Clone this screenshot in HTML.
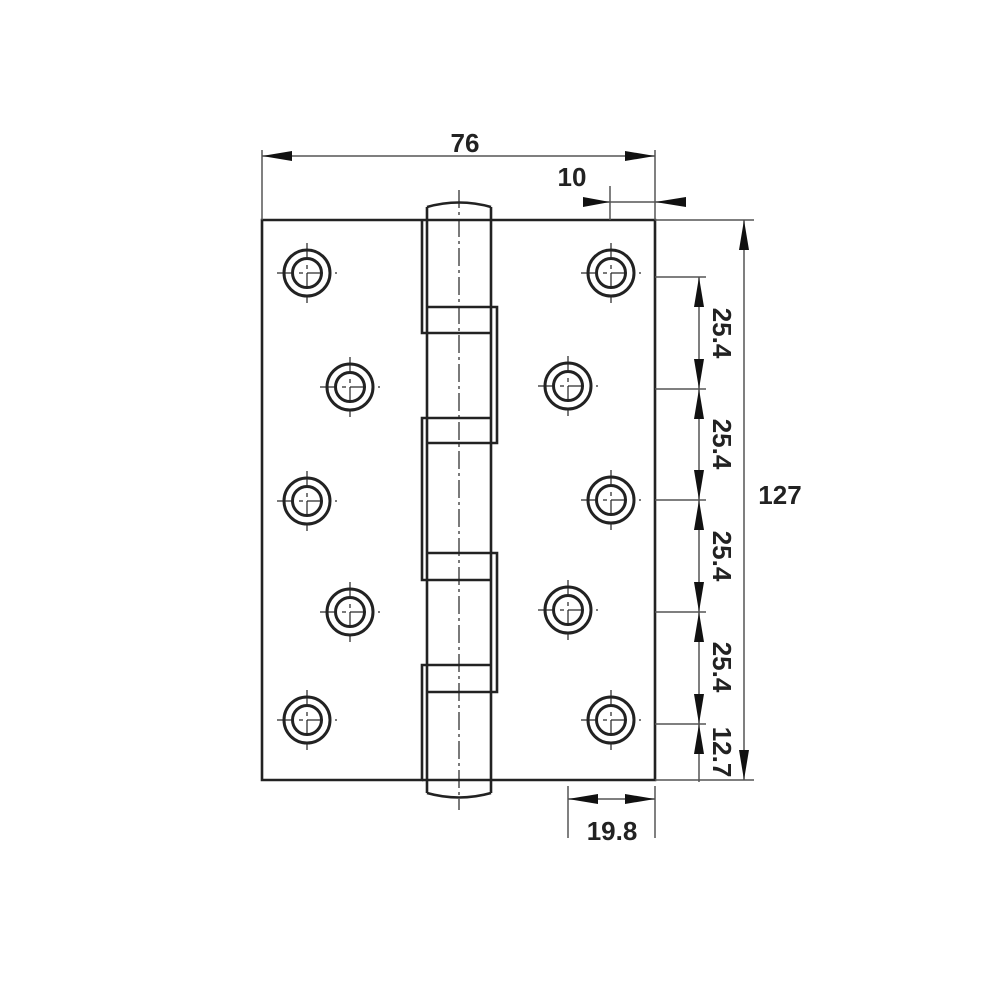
<!DOCTYPE html>
<html><head><meta charset="utf-8"><style>
html,body{margin:0;padding:0;background:#fff;}
svg{display:block;}
text{font-family:"Liberation Sans",Arial,sans-serif;font-weight:bold;font-size:26px;fill:#222;}
</style></head><body>
<svg width="1000" height="1000" viewBox="0 0 1000 1000" xmlns="http://www.w3.org/2000/svg">
<defs>
<g id="hole">
  <circle r="23" fill="none" stroke="#222" stroke-width="3"/>
  <circle r="14.5" fill="none" stroke="#222" stroke-width="3"/>
  <g stroke="#222" stroke-width="1.2">
    <line x1="-30" y1="0" x2="-16" y2="0"/><line x1="-8" y1="0" x2="-4" y2="0"/><line x1="0" y1="0" x2="16" y2="0"/><line x1="22" y1="0" x2="24" y2="0"/><line x1="28" y1="0" x2="30" y2="0"/>
    <line x1="0" y1="-30" x2="0" y2="-16"/><line x1="0" y1="-8" x2="0" y2="-4"/><line x1="0" y1="0" x2="0" y2="16"/><line x1="0" y1="24" x2="0" y2="30"/>
  </g>
</g>
</defs>
<g fill="none" stroke="#222" stroke-width="2.6">
  <path d="M422,220 H262 V780 H422 V665 H491"/>
  <path d="M422,220 V333 H491"/>
  <path d="M491,418 H422 V580 H491"/>
  <path d="M491,220 H655 V780 H491"/>
  <path d="M427,307 H497 V443 H427"/>
  <path d="M427,553 H497 V692 H427"/>
  <line x1="422" y1="220" x2="491" y2="220"/>
  <line x1="422" y1="780" x2="491" y2="780"/>
  <path d="M427,207 Q459,198 491,207"/>
  <path d="M427,793 Q459,802 491,793"/>
  <line x1="427" y1="207" x2="427" y2="793"/>
  <line x1="491" y1="207" x2="491" y2="793"/>
</g>
<line x1="459" y1="190" x2="459" y2="810" stroke="#222" stroke-width="1.2" stroke-dasharray="18,4,3,4"/>
<use href="#hole" x="307" y="273"/>
<use href="#hole" x="350" y="387"/>
<use href="#hole" x="307" y="501"/>
<use href="#hole" x="350" y="612"/>
<use href="#hole" x="307" y="720"/>
<use href="#hole" x="611" y="273"/>
<use href="#hole" x="568" y="386"/>
<use href="#hole" x="611" y="500"/>
<use href="#hole" x="568" y="610"/>
<use href="#hole" x="611" y="720"/>
<g stroke="#555" stroke-width="1.5" fill="none">
  <line x1="262" y1="150" x2="262" y2="220"/>
  <line x1="655" y1="150" x2="655" y2="220"/>
  <line x1="262" y1="156" x2="655" y2="156"/>
  <line x1="610" y1="186" x2="610" y2="220"/>
  <line x1="583" y1="202" x2="686" y2="202"/>
  <line x1="655" y1="220" x2="754" y2="220"/>
  <line x1="655" y1="780" x2="754" y2="780"/>
  <line x1="744" y1="220" x2="744" y2="780"/>
  <line x1="655" y1="277" x2="706" y2="277"/>
  <line x1="655" y1="389" x2="706" y2="389"/>
  <line x1="655" y1="500" x2="706" y2="500"/>
  <line x1="655" y1="612" x2="706" y2="612"/>
  <line x1="655" y1="724" x2="706" y2="724"/>
  <line x1="699" y1="277" x2="699" y2="782"/>
  <line x1="568" y1="786" x2="568" y2="838"/>
  <line x1="655" y1="786" x2="655" y2="838"/>
  <line x1="568" y1="799" x2="655" y2="799"/>
</g>
<g fill="#111">
  <polygon points="262,156 292,151 292,161"/>
  <polygon points="655,156 625,151 625,161"/>
  <polygon points="610,202 583,197 583,207"/>
  <polygon points="655,202 686,197 686,207"/>
  <polygon points="744,220 739,250 749,250"/>
  <polygon points="744,780 739,750 749,750"/>
  <polygon points="568,799 598,794 598,804"/>
  <polygon points="655,799 625,794 625,804"/>
  <polygon points="699,277 694,307 704,307"/>
  <polygon points="699,389 694,359 704,359"/>
  <polygon points="699,389 694,419 704,419"/>
  <polygon points="699,500 694,470 704,470"/>
  <polygon points="699,500 694,530 704,530"/>
  <polygon points="699,612 694,582 704,582"/>
  <polygon points="699,612 694,642 704,642"/>
  <polygon points="699,724 694,694 704,694"/>
  <polygon points="699,724 694,754 704,754"/>
</g>
<text x="465" y="152" text-anchor="middle">76</text>
<text x="572" y="186" text-anchor="middle">10</text>
<text x="780" y="504" text-anchor="middle">127</text>
<text x="612" y="840" text-anchor="middle">19.8</text>
<g text-anchor="middle">
  <text transform="translate(713,333) rotate(90)">25.4</text>
  <text transform="translate(713,444) rotate(90)">25.4</text>
  <text transform="translate(713,556) rotate(90)">25.4</text>
  <text transform="translate(713,667) rotate(90)">25.4</text>
  <text transform="translate(713,752) rotate(90)">12.7</text>
</g>
</svg>
</body></html>
